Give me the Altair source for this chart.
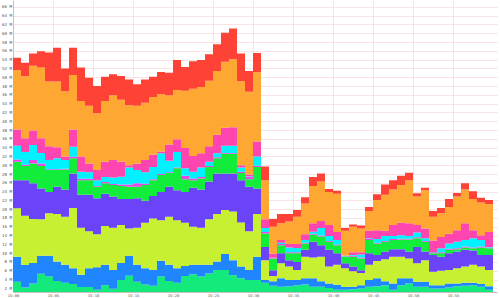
import altair as alt
import pandas as pd

# one sample per minute, 15:00 .. 15:59
minutes = list(range(60))
tick_minutes = list(range(0, 60, 5))
y_ticks = list(range(2, 67, 2))

series_names = ["s1", "s2", "s3", "s4", "s5", "s6", "s7", "s8", "s9", "s10"]
series_colors = ["#14ea7c", "#1f86ff", "#c8f032", "#6b44fa", "#12ec3a",
                 "#e84ae8", "#00f2ff", "#ff45b0", "#ffa733", "#ff4236"]

# cumulative stack levels (top of each layer), in millions
top_s1 = [3.5, 2.2, 3.1, 5.3, 4.7, 3.7, 3.3, 3.0, 2.3, 2.3, 1.7, 2.7, 1.9, 3.9, 4.9, 3.5, 2.9, 2.6, 4.7, 3.7,
          3.3, 4.8, 5.2, 4.7, 5.4, 6.2, 6.2, 5.0, 4.3, 3.9, 3.9, 3.3, 2.6, 2.4, 2.5, 2.7, 2.9, 2.4, 2.4, 2.1,
          1.7, 1.7, 1.8, 2.0, 2.4, 2.5, 2.7, 1.7, 2.7, 3.1, 2.4, 2.4, 2.0, 2.0, 2.2, 2.5, 2.6, 2.7, 2.4, 1.7]
top_s2 = [9.2, 7.4, 7.8, 9.4, 9.4, 8.1, 7.4, 6.6, 5.1, 6.6, 6.8, 7.4, 6.2, 7.8, 9.4, 7.4, 6.6, 6.2, 8.3, 7.4,
          6.6, 7.1, 7.4, 7.4, 7.4, 8.1, 9.8, 8.4, 7.0, 6.2, 9.2, 3.9, 3.6, 4.3, 3.9, 3.9, 4.3, 4.3, 3.6, 3.1,
          2.8, 2.3, 2.4, 2.7, 3.9, 4.3, 3.6, 3.1, 4.3, 4.3, 3.5, 3.5, 2.7, 2.7, 3.1, 3.1, 3.3, 3.3, 3.0, 2.5]
top_s3 = [20.2, 18.5, 17.8, 17.7, 19.1, 18.9, 18.3, 20.3, 15.8, 15.0, 14.3, 16.2, 15.8, 16.4, 15.6, 15.8, 16.9, 17.9, 17.5, 18.3,
          17.5, 16.9, 16.0, 15.8, 17.7, 18.9, 19.8, 19.5, 17.0, 15.0, 18.9, 8.4, 4.8, 7.7, 7.0, 6.2, 9.2, 9.0, 9.2, 7.0,
          7.4, 6.6, 5.9, 5.5, 7.4, 8.2, 8.6, 9.2, 9.2, 8.8, 7.7, 8.4, 5.8, 6.0, 6.2, 6.6, 7.0, 7.4, 7.0, 6.2]
top_s4 = [26.6, 26.6, 25.9, 24.7, 23.9, 25.1, 24.5, 28.1, 23.3, 23.3, 22.5, 23.5, 22.9, 22.3, 22.3, 22.5, 21.9, 23.0, 23.9, 25.1,
          24.3, 23.9, 24.9, 24.5, 26.3, 28.1, 28.1, 28.1, 26.6, 25.1, 24.7, 11.4, 6.1, 10.0, 8.4, 8.0, 10.8, 12.6, 11.8, 10.8,
          10.0, 7.7, 7.0, 6.1, 10.0, 9.6, 10.4, 10.9, 10.9, 10.4, 11.4, 10.4, 9.6, 9.2, 10.0, 10.4, 10.8, 10.6, 9.6, 9.6]
top_s5 = [30.8, 29.8, 30.4, 29.8, 28.9, 28.9, 29.0, 31.6, 26.6, 26.6, 25.1, 25.9, 25.5, 25.3, 25.1, 25.1, 25.5, 26.6, 27.8, 28.2,
          29.3, 26.8, 26.6, 27.0, 29.6, 31.6, 32.6, 32.6, 28.2, 26.8, 29.6, 14.5, 8.8, 11.8, 10.0, 10.0, 12.2, 14.2, 13.8, 12.6,
          11.8, 9.2, 9.2, 8.8, 13.0, 12.2, 12.6, 13.0, 13.1, 13.1, 13.4, 12.6, 10.0, 10.0, 10.8, 10.9, 11.3, 11.1, 11.3, 11.1]
top_s6 = [31.3, 30.1, 31.2, 30.4, 29.1, 29.1, 29.2, 31.9, 26.9, 26.9, 25.3, 26.2, 25.7, 25.6, 25.6, 25.9, 25.8, 26.8, 28.0, 28.4,
          29.5, 27.6, 27.0, 27.3, 29.8, 31.8, 32.8, 32.8, 28.5, 27.4, 29.9, 14.8, 9.0, 12.1, 10.2, 10.2, 12.4, 14.4, 14.0, 12.8,
          12.0, 9.3, 9.4, 9.0, 13.2, 12.4, 12.8, 13.2, 13.3, 13.3, 13.6, 12.8, 10.2, 10.2, 11.0, 11.1, 11.5, 11.3, 11.5, 11.3]
top_s7 = [34.4, 33.0, 34.6, 32.8, 31.2, 31.6, 31.2, 34.2, 28.5, 28.4, 26.6, 27.3, 27.2, 27.4, 29.5, 28.9, 28.4, 29.6, 32.7, 31.0,
          33.0, 29.3, 28.5, 29.5, 30.8, 32.7, 34.4, 34.4, 29.5, 27.5, 32.0, 15.7, 9.0, 12.4, 11.3, 11.2, 13.0, 14.9, 15.7, 13.9,
          13.0, 9.4, 9.6, 9.7, 13.4, 13.2, 13.9, 13.9, 14.1, 13.9, 14.7, 13.4, 10.3, 11.1, 12.2, 12.6, 13.0, 13.4, 13.0, 11.4]
top_s8 = [38.1, 36.1, 37.9, 36.1, 34.3, 34.1, 32.0, 38.1, 32.0, 30.4, 28.9, 30.8, 31.2, 30.8, 30.0, 30.4, 31.2, 32.4, 33.1, 34.7,
          35.9, 33.9, 32.1, 32.7, 34.3, 36.9, 38.5, 38.6, 30.0, 27.9, 35.4, 17.7, 9.9, 13.0, 12.1, 12.1, 14.3, 16.8, 17.3, 16.4,
          14.8, 9.5, 10.2, 10.2, 15.1, 15.2, 15.1, 16.4, 16.9, 16.8, 16.4, 15.6, 12.9, 13.7, 14.4, 15.2, 16.8, 15.2, 14.1, 14.8]
top_s9 = [51.6, 50.2, 52.6, 52.2, 49.0, 49.0, 46.8, 50.5, 44.6, 43.5, 41.8, 44.6, 45.9, 44.9, 43.6, 43.5, 44.2, 45.5, 46.1, 45.9,
          47.1, 46.9, 47.4, 47.8, 49.2, 51.4, 53.5, 54.1, 49.1, 46.7, 51.1, 26.6, 16.0, 16.8, 17.2, 18.3, 21.3, 25.3, 26.3, 23.9,
          23.5, 15.1, 16.0, 15.6, 19.6, 22.1, 23.3, 24.5, 25.5, 26.6, 22.9, 24.3, 18.3, 19.1, 20.5, 22.9, 24.5, 22.3, 21.5, 21.2]
top_s10 = [54.4, 53.3, 55.4, 55.9, 55.6, 56.7, 52.0, 56.7, 52.2, 49.9, 48.0, 50.1, 50.7, 50.3, 49.5, 48.4, 49.5, 50.1, 51.2, 51.0,
           53.9, 52.3, 53.6, 53.9, 55.2, 57.5, 60.1, 61.1, 55.4, 51.4, 55.5, 29.7, 17.8, 18.9, 18.9, 19.8, 22.7, 27.3, 28.1, 24.6,
           24.2, 15.7, 16.5, 16.3, 20.5, 23.4, 25.6, 26.6, 27.6, 28.3, 23.6, 24.9, 19.6, 20.3, 22.3, 23.7, 25.9, 24.1, 22.6, 22.1]

tops = [top_s1, top_s2, top_s3, top_s4, top_s5, top_s6, top_s7, top_s8, top_s9, top_s10]

rows = []
prev = [0.0] * len(minutes)
for k, (name, top) in enumerate(zip(series_names, tops)):
    for i, t in enumerate(minutes):
        rows.append({"t": t, "series": name, "k": k, "v": round(max(top[i] - prev[i], 0.0), 3)})
    # closing point so the last step has its full width
    rows.append({"t": minutes[-1] + 1, "series": name, "k": k,
                 "v": round(max(top[-1] - prev[-1], 0.0), 3)})
    prev = top
df = pd.DataFrame(rows)

grid_col = "#fbe3e3"
label_col = "#555555"

chart = alt.Chart(df).mark_area(interpolate="step-after", clip=True).encode(
    x=alt.X("t:Q",
            scale=alt.Scale(domain=[0, 60.5], nice=False, zero=False),
            axis=alt.Axis(values=tick_minutes,
                          labelExpr="'15:' + (datum.value < 10 ? '0' : '') + datum.value",
                          title=None, grid=True, gridColor=grid_col, gridWidth=1,
                          ticks=False, labelFontSize=3.8, labelFont="DejaVu Sans Mono",
                          labelColor=label_col, labelPadding=1, labelOverlap=False,
                          labelFlush=False, domainColor="#cdbdbd", domainWidth=1)),
    y=alt.Y("v:Q", stack="zero",
            scale=alt.Scale(domain=[1.18, 67.55], nice=False, zero=False),
            axis=alt.Axis(values=y_ticks, labelExpr="datum.value + ' M'",
                          title=None, grid=True, gridColor=grid_col, gridWidth=1,
                          ticks=False, labelFontSize=4.2, labelFont="DejaVu Sans Mono",
                          labelColor=label_col, labelPadding=1.5, labelOverlap=False,
                          labelFlush=False, domainColor="#cdbdbd", domainWidth=1)),
    color=alt.Color("series:N", scale=alt.Scale(domain=series_names, range=series_colors), legend=None),
    order=alt.Order("k:Q", sort="ascending"),
).properties(
    width=484, height=292,
    autosize=alt.AutoSizeParams(type="none"),
    padding={"left": 13, "top": 0, "right": 3, "bottom": 6},
    background="white",
).configure_view(stroke=None)

chart.save("out.html", embed_options={"renderer": "svg", "actions": False})
